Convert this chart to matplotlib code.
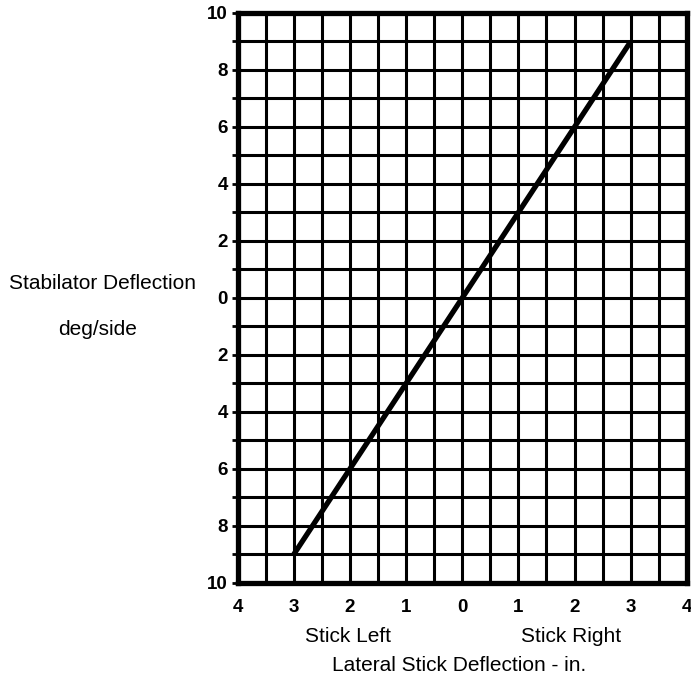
import matplotlib.pyplot as plt
import numpy as np

plt.rcParams['font.family'] = ['Liberation Sans', 'DejaVu Sans']

# stick deflection (in.) vs stabilator deflection (deg/side)
stick_in = [-3.0, 3.0]
stab_deg = [-9.0, 9.0]

xticks = [-4, -3, -2, -1, 0, 1, 2, 3, 4]
xtick_labels = ['4', '3', '2', '1', '0', '1', '2', '3', '4']
yticks = [-10, -8, -6, -4, -2, 0, 2, 4, 6, 8, 10]
ytick_labels = ['10', '8', '6', '4', '2', '0', '2', '4', '6', '8', '10']

fig = plt.figure(figsize=(6.91, 6.84), dpi=100)
ax = fig.add_axes([0.344, 0.148, 0.650, 0.833])

ax.set_xlim(-4, 4)
ax.set_ylim(-10, 10)

# grid: every 0.5 in. in x, every 1 deg in y
for gx in np.arange(-4, 4.01, 0.5):
    ax.axvline(gx, color='black', lw=2.2, zorder=1)
for gy in np.arange(-10, 10.01, 1):
    ax.axhline(gy, color='black', lw=2.2, zorder=1)

ax.plot(stick_in, stab_deg, color='black', lw=3.8, solid_capstyle='butt', zorder=3)

for s in ax.spines.values():
    s.set_linewidth(3.8)
    s.set_zorder(4)

ax.set_xticks(xticks)
ax.set_xticklabels(xtick_labels, fontsize=13.5, fontweight='bold')
ax.set_yticks(yticks)
ax.set_yticklabels(ytick_labels, fontsize=13.5, fontweight='bold')
ax.set_yticks(np.arange(-10, 11, 1), minor=True)
ax.tick_params(axis='x', length=0, pad=12)
ax.tick_params(axis='y', which='both', length=4, width=2, pad=3)

fig.text(0.504, 0.069, 'Stick Left', ha='center', va='center', fontsize=15)
fig.text(0.827, 0.069, 'Stick Right', ha='center', va='center', fontsize=15)
fig.text(0.664, 0.027, 'Lateral Stick Deflection - in.', ha='center', va='center', fontsize=15)
fig.text(0.149, 0.586, 'Stabilator Deflection', ha='center', va='center', fontsize=15)
fig.text(0.141, 0.518, 'deg/side', ha='center', va='center', fontsize=15)

plt.savefig('out.png', dpi=100)
